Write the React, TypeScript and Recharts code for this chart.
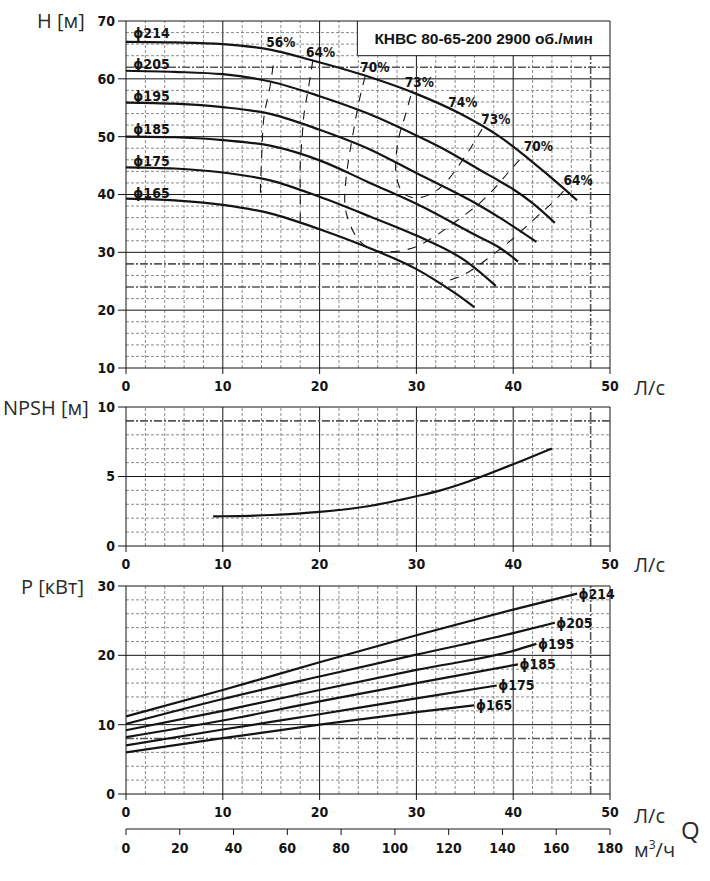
import { LineChart, Line, XAxis, YAxis, ReferenceLine, ReferenceArea, ReferenceDot } from "recharts";

type Pt = [number, number];

// Q [Л/с] -> H [м]
const head214: Pt[] = [[0, 66.4], [5, 66.3], [10, 66.0], [15, 65.0], [19, 63.3], [25, 60.4], [30, 57.4], [34.5, 54.0], [38.6, 50.0], [42, 45.6], [44.5, 42.1], [46.6, 39.0]];
const head205: Pt[] = [[0, 61.4], [5, 61.2], [10, 60.8], [15, 59.5], [20, 57.0], [25, 54.0], [30, 50.2], [33, 47.7], [36.6, 44.2], [38.6, 42.3], [40, 40.9], [42, 38.5], [44.3, 35.1]];
const head195: Pt[] = [[0, 55.9], [5, 55.7], [10, 55.1], [15, 53.9], [20, 51.2], [25.2, 47.8], [30, 43.7], [36.2, 38.4], [38.6, 36.0], [42.4, 31.8]];
const head185: Pt[] = [[0, 50.0], [5, 49.9], [10, 49.4], [15, 48.4], [20, 45.9], [25.2, 42.0], [30, 38.4], [36.2, 32.9], [38.6, 30.8], [40.5, 28.4]];
const head175: Pt[] = [[0, 44.7], [5, 44.5], [10, 43.8], [15, 42.4], [20, 39.6], [25.2, 36.2], [30, 32.9], [35, 28.6], [38.2, 24.2]];
const head165: Pt[] = [[0, 39.3], [5, 39.0], [10, 38.2], [15, 36.7], [20, 34.0], [25.2, 30.7], [30, 27.1], [32.5, 24.6], [34.3, 22.6], [36, 20.5]];

const diameters = ["ϕ214", "ϕ205", "ϕ195", "ϕ185", "ϕ175", "ϕ165"];
const headCurves = [head214, head205, head195, head185, head175, head165];
const headLabelQ = [0.76, 0.76, 0.76, 0.76, 0.76, 0.76];
const headLabelH = [67.9, 62.6, 57.1, 51.3, 45.8, 40.3];

// iso-efficiency lines
const eff56: Pt[] = [[15.2, 62.3], [14.8, 58], [14.3, 54], [14.1, 50], [14.0, 46], [13.9, 42], [13.9, 39.6]];
const eff64a: Pt[] = [[19.3, 63.2], [18.8, 58], [18.4, 54], [18.2, 50], [18.0, 45], [18.0, 40], [18.0, 35.2]];
const eff70: Pt[] = [[24.7, 60.4], [24.0, 55.5], [23.4, 50], [22.9, 45], [22.6, 40], [22.8, 36.5], [23.6, 33.2], [24.8, 31.0], [26.5, 30.1], [28.5, 30.3], [30.5, 31.4], [32.8, 33.8], [34.7, 36.1], [36.6, 38.6], [38.3, 41.5], [39.7, 44.2], [41.2, 47.0]];
const eff73: Pt[] = [[29.4, 57.0], [28.8, 53.4], [28.2, 50], [27.9, 46.5], [27.9, 43.5], [28.4, 40.8], [29.3, 39.6], [30.5, 39.5], [31.9, 40.5], [33.2, 42.4], [34.5, 45.3], [35.7, 48.3], [36.6, 50.8], [37.2, 52.4]];
const eff64b: Pt[] = [[45.2, 40.6], [44.0, 38.5], [42.4, 36.1], [40.2, 32.7], [37.9, 29.6], [35.4, 26.6], [33.8, 25.4], [32.6, 24.7]];
const effCurves = [eff56, eff64a, eff70, eff73, eff64b];

const effLabels = ["56%", "64%", "70%", "73%", "74%", "73%", "70%", "64%"];
const effLabelQ = [14.5, 18.6, 24.2, 28.8, 33.3, 36.7, 41.1, 45.2];
const effLabelH = [66.4, 64.7, 62.1, 59.4, 56.0, 53.0, 48.3, 42.5];

const title = "КНВС 80-65-200 2900 об./мин";

// Q [Л/с] -> NPSH [м]
const npsh: Pt[] = [[9, 2.13], [10, 2.14], [15, 2.23], [20, 2.45], [25, 2.86], [30, 3.58], [32.5, 4.0], [35, 4.55], [37.5, 5.2], [40, 5.88], [44, 7.02]];

// Q [Л/с] -> P [кВт]
const power214: Pt[] = [[0, 11.2], [10, 15.0], [20, 19.0], [30, 22.9], [40, 26.6], [46.6, 28.9]];
const power205: Pt[] = [[0, 10.1], [10, 13.7], [20, 16.95], [30, 20.1], [40, 23.2], [44.3, 24.7]];
const power195: Pt[] = [[0, 9.2], [10, 12.0], [20, 15.0], [30, 17.9], [40, 20.65], [42.4, 21.65]];
const power185: Pt[] = [[0, 8.2], [10, 10.6], [20, 13.35], [30, 16.0], [40.5, 18.7]];
const power175: Pt[] = [[0, 7.0], [10, 9.3], [20, 11.5], [30, 13.8], [38.3, 15.65]];
const power165: Pt[] = [[0, 6.0], [10, 8.05], [20, 10.0], [30, 11.8], [36, 12.8]];
const powerCurves = [power214, power205, power195, power185, power175, power165];

const qTicks = [0, 10, 20, 30, 40, 50];
const m3Ticks = [0, 20, 40, 60, 80, 100, 120, 140, 160, 180];
const headTicks = [10, 20, 30, 40, 50, 60, 70];
const npshTicks = [0, 5, 10];
const powerTicks = [0, 10, 20, 30];

const NARROW = "'Liberation Sans Narrow', 'DejaVu Sans', sans-serif";
const SANS = "'Open Sans', 'Noto Sans', sans-serif";
const INK = "#141414";

const tickStyle = { fontFamily: NARROW, fontStretch: "condensed", fontWeight: 700, fontSize: 14, fill: INK };
const axisStroke = { stroke: INK, strokeWidth: 1 };

const minor = { stroke: "#6e6e6e", strokeWidth: 0.8, strokeDasharray: "3 2" };
const major = { stroke: INK, strokeWidth: 1 };
const special = { stroke: "#575757", strokeWidth: 1.6, strokeDasharray: "8 2 2 2" };

const toPts = (arr: Pt[]) => arr.map(([q, v]) => ({ q, v }));

function steps(from: number, to: number, step: number) {
  const out: number[] = [];
  for (let v = from; v <= to + 1e-9; v += step) out.push(Math.round(v * 100) / 100);
  return out;
}

interface GridSpec {
  id: string;
  y: [number, number];
  yStep: number;
  yMajor: number;
  xSpecial: number[];
  ySpecial: number[];
  box?: { x: number; y: number };
}

// grid drawn as reference segments so the title box can stay clear
function grid(g: GridSpec) {
  const [ylo, yhi] = g.y;
  const out = [];
  for (const x of steps(2, 50, 2)) {
    const style = g.xSpecial.includes(x) ? special : x % 10 === 0 ? major : minor;
    const top = g.box && x >= g.box.x ? g.box.y : yhi;
    out.push(<ReferenceLine key={`${g.id}x${x}`} segment={[{ x, y: ylo }, { x, y: top }]} {...style} />);
  }
  for (const y of steps(ylo + g.yStep, yhi, g.yStep)) {
    const style = g.ySpecial.includes(y) ? special : y % g.yMajor === 0 ? major : minor;
    const right = g.box && y >= g.box.y ? g.box.x : 50;
    out.push(<ReferenceLine key={`${g.id}y${y}`} segment={[{ x: 0, y }, { x: right, y }]} {...style} />);
  }
  return out;
}

const textMark = (text: string, size = 14, anchor: "start" | "middle" = "start", family = NARROW, stretch = "condensed") =>
  (p: any) => (
    <text x={p.cx} y={p.cy} textAnchor={anchor} dominantBaseline="central" fontFamily={family}
      fontStretch={stretch} fontWeight={700} fontSize={size} fill={INK}>{text}</text>
  );

const solidLine = (data: Pt[], key: string) => (
  <Line key={key} data={toPts(data)} dataKey="v" type="monotone" stroke={INK} strokeWidth={2.2}
    dot={false} activeDot={false} isAnimationActive={false} />
);

const HeadChart = () => (
  <LineChart width={710} height={398} margin={{ top: 21, right: 100, bottom: 0, left: 0 }}>
    <XAxis dataKey="q" type="number" domain={[0, 50]} ticks={qTicks} allowDataOverflow height={30}
      tick={tickStyle} tickSize={6} tickMargin={7} axisLine={axisStroke} tickLine={axisStroke} />
    <YAxis type="number" domain={[10, 70]} ticks={headTicks} allowDataOverflow width={126}
      tick={tickStyle} tickSize={8} tickMargin={3} axisLine={axisStroke} tickLine={axisStroke} />
    {grid({ id: "h", y: [10, 70], yStep: 2, yMajor: 10, xSpecial: [48], ySpecial: [62, 28, 24], box: { x: 23.9, y: 64 } })}
    <ReferenceArea x1={23.9} x2={50} y1={64} y2={70} fill="#fff" fillOpacity={1} stroke={INK} strokeWidth={1} />
    <ReferenceDot x={36.95} y={67} r={0} shape={textMark(title, 15.5, "middle", "'Liberation Sans', Arial, sans-serif", "normal")} />
    {effCurves.map((c, i) => (
      <Line key={`e${i}`} data={toPts(c)} dataKey="v" type="natural" stroke={INK} strokeWidth={1.1}
        strokeDasharray="9 8" dot={false} activeDot={false} isAnimationActive={false} />
    ))}
    {headCurves.map((c, i) => solidLine(c, `h${i}`))}
    {diameters.map((d, i) => (
      <ReferenceDot key={`hl${i}`} x={headLabelQ[i]} y={headLabelH[i]} r={0} shape={textMark(d)} />
    ))}
    {effLabels.map((t, i) => (
      <ReferenceDot key={`el${i}`} x={effLabelQ[i]} y={effLabelH[i]} r={0} shape={textMark(t, 13.5)} />
    ))}
  </LineChart>
);

const NpshChart = () => (
  <LineChart width={710} height={179} margin={{ top: 10, right: 100, bottom: 0, left: 0 }}>
    <XAxis dataKey="q" type="number" domain={[0, 50]} ticks={qTicks} allowDataOverflow height={30}
      tick={tickStyle} tickSize={6} tickMargin={7} axisLine={axisStroke} tickLine={axisStroke} />
    <YAxis type="number" domain={[0, 10]} ticks={npshTicks} allowDataOverflow width={126}
      tick={tickStyle} tickSize={8} tickMargin={3} axisLine={axisStroke} tickLine={axisStroke} />
    {grid({ id: "n", y: [0, 10], yStep: 1, yMajor: 5, xSpecial: [48], ySpecial: [9] })}
    {solidLine(npsh, "npsh")}
  </LineChart>
);

// m³/ч axis has no series of its own; an empty line gives it a scale
const m3Anchor = m3Ticks.map((q) => ({ q, v: null }));

const PowerChart = () => (
  <LineChart width={710} height={283} margin={{ top: 10, right: 100, bottom: 0, left: 0 }}>
    <XAxis dataKey="q" type="number" domain={[0, 50]} ticks={qTicks} allowDataOverflow height={35}
      tick={tickStyle} tickSize={6} tickMargin={7} axisLine={axisStroke} tickLine={axisStroke} />
    <XAxis xAxisId="m3" dataKey="q" type="number" domain={[0, 180]} ticks={m3Ticks} allowDataOverflow height={30}
      tick={tickStyle} tickSize={6} tickMargin={8} axisLine={axisStroke} tickLine={axisStroke} />
    <YAxis type="number" domain={[0, 30]} ticks={powerTicks} allowDataOverflow width={126}
      tick={tickStyle} tickSize={8} tickMargin={3} axisLine={axisStroke} tickLine={axisStroke} />
    {grid({ id: "p", y: [0, 30], yStep: 2, yMajor: 10, xSpecial: [48], ySpecial: [8] })}
    <Line xAxisId="m3" data={m3Anchor} dataKey="v" stroke="none" dot={false} activeDot={false} isAnimationActive={false} />
    {powerCurves.map((c, i) => solidLine(c, `p${i}`))}
    {powerCurves.map((c, i) => {
      const [q, v] = c[c.length - 1];
      return <ReferenceDot key={`pl${i}`} x={q + 0.15} y={v} r={0} shape={textMark(diameters[i])} />;
    })}
  </LineChart>
);

const titleStyle = (left: number, top: number, size = 20): React.CSSProperties => ({
  position: "absolute", left, top, fontFamily: SANS, fontSize: size, lineHeight: `${size}px`,
  color: "#2a2a2a", whiteSpace: "nowrap",
});

export default function App() {
  return (
    <div style={{ position: "absolute", left: 0, top: 0, width: 710, height: 881, background: "#fff" }}>
      <div style={{ position: "absolute", left: 0, top: 0 }}><HeadChart /></div>
      <div style={{ position: "absolute", left: 0, top: 397 }}><NpshChart /></div>
      <div style={{ position: "absolute", left: 0, top: 576 }}><PowerChart /></div>
      <div style={titleStyle(37, 11)}>H [м]</div>
      <div style={titleStyle(3, 398)}>NPSH [м]</div>
      <div style={titleStyle(21, 577)}>P [кВт]</div>
      <div style={titleStyle(634, 378)}>Л/с</div>
      <div style={titleStyle(634, 555)}>Л/с</div>
      <div style={titleStyle(634, 806)}>Л/с</div>
      <div style={titleStyle(681, 818, 24)}>Q</div>
      <div style={titleStyle(634, 840)}>м<sup style={{ fontSize: 12, lineHeight: 0 }}>3</sup>/ч</div>
    </div>
  );
}
